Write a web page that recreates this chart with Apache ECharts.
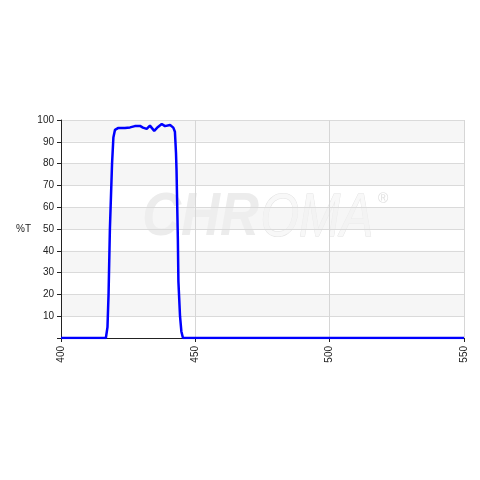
<!DOCTYPE html>
<html>
<head>
<meta charset="utf-8">
<script src="https://cdn.jsdelivr.net/npm/echarts@6/dist/echarts.min.js"></script>
<style>
  html, body { margin: 0; padding: 0; background: #fff; }
  #chart { width: 480px; height: 480px; }
</style>
</head>
<body>
<div id="chart"></div>
<script>
// wavelength (nm) and transmission (%T)
var wavelength = [400, 416.7, 417.3, 417.7, 418.2, 419.0, 419.5, 420.1, 421.2, 423.8, 425.7, 427.5, 429.4, 430.5,
  431.9, 433.1, 434.7, 436.1, 437.5, 438.7, 440.6, 441.8, 442.4, 442.8, 443.0, 443.5, 443.7, 444.3, 444.8, 445.4, 550];
var transmission = [0, 0, 5, 20, 50, 80, 92, 95.5, 96.3, 96.3, 96.6, 97.2, 97.3, 96.5,
  95.9, 97.4, 95.0, 96.8, 98.2, 97.2, 97.7, 96.5, 94.6, 85, 77, 45, 26, 10, 3, 0, 0];
var xTicks = [400, 450, 500, 550];
var yTicks = [10, 20, 30, 40, 50, 60, 70, 80, 90, 100];

var chart = echarts.init(document.getElementById('chart'));

var points = wavelength.map(function (w, i) { return [w, transmission[i]]; });

chart.setOption({
  animation: false,
  textStyle: { fontFamily: 'Liberation Sans' },
  grid: { left: 61, right: 16, top: 120, bottom: 142 },
  // faint maker watermark behind the curve
  graphic: [
    {
      type: 'text', left: 142, top: 187, z: 0, silent: true, scaleX: 0.87,
      style: { text: 'CHR', font: 'italic bold 62px Liberation Sans', fill: '#ececec' }
    },
    {
      type: 'text', left: 260, top: 187, z: 0, silent: true, scaleX: 0.8,
      style: { text: 'OMA', font: 'italic 62px Liberation Sans', fill: '#f8f8f8', stroke: '#e2e2e2', lineWidth: 1 }
    },
    {
      type: 'text', left: 378, top: 192, z: 0, silent: true,
      style: { text: '®', font: '14px Liberation Sans', fill: '#e0e0e0' }
    }
  ],
  xAxis: {
    type: 'value',
    min: 400,
    max: 550,
    interval: 50,
    axisLine: { lineStyle: { color: '#222', width: 1 } },
    axisTick: { show: true, length: 4, lineStyle: { color: '#222' } },
    axisLabel: {
      rotate: 90,
      color: '#222',
      fontSize: 10,
      margin: 8,
      formatter: function (v) { return xTicks.indexOf(v) >= 0 ? String(v) : ''; }
    },
    splitLine: { show: true, lineStyle: { color: '#d6d6d6', width: 1 } }
  },
  yAxis: {
    type: 'value',
    name: '%T',
    nameLocation: 'middle',
    nameRotate: 0,
    nameGap: 30,
    nameTextStyle: { color: '#222', fontSize: 10 },
    min: 0,
    max: 100,
    interval: 10,
    axisLine: { show: true, lineStyle: { color: '#222', width: 1 } },
    axisTick: { show: true, length: 4, lineStyle: { color: '#222' } },
    axisLabel: {
      color: '#222',
      fontSize: 10,
      margin: 7,
      formatter: function (v) { return yTicks.indexOf(v) >= 0 ? String(v) : ''; }
    },
    splitLine: { show: true, lineStyle: { color: '#dadada', width: 1 } },
    splitArea: { show: true, areaStyle: { color: ['rgba(255,255,255,0)', 'rgba(240,240,240,0.6)'] } }
  },
  series: [
    {
      type: 'line',
      data: points,
      showSymbol: false,
      smooth: false,
      z: 5,
      lineStyle: { color: '#0000ff', width: 2.5 }
    }
  ]
});
</script>
</body>
</html>
